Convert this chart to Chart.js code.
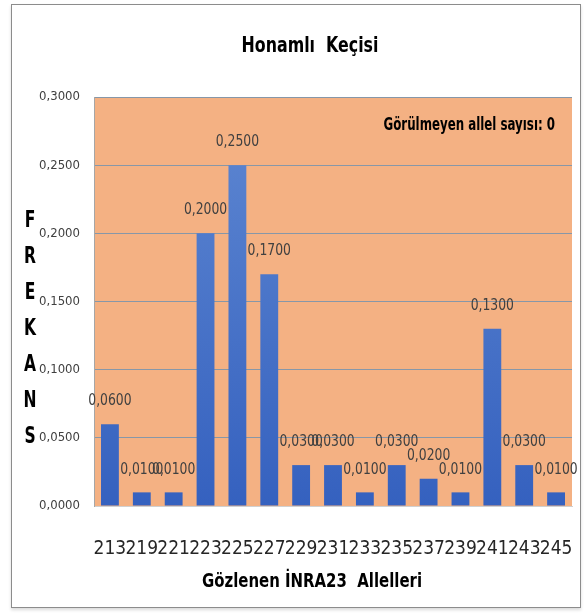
<!DOCTYPE html>
<html>
<head>
<meta charset="utf-8">
<script src="https://cdn.jsdelivr.net/npm/chart.js@4.4.0/dist/chart.umd.min.js"></script>
<style>
  body { margin: 0; background: #fff; }
  #frame {
    position: absolute; left: 11px; top: 4px;
    width: 568px; height: 602px;
    border: 1px solid #8c8c8c;
    box-shadow: 0 2px 3px rgba(0,0,0,0.15);
  }
  #frame canvas { display: block; }
</style>
</head>
<body>
<div id="frame"><canvas id="allelChart" width="568" height="602"></canvas></div>
<script>
// alleles and frequencies
const alleles = ['213', '219', '221', '223', '225', '227', '229', '231', '233', '235', '237', '239', '241', '243', '245'];
const frekans = [0.06, 0.01, 0.01, 0.20, 0.25, 0.17, 0.03, 0.03, 0.01, 0.03, 0.02, 0.01, 0.13, 0.03, 0.01];
const yTicks = [0, 0.05, 0.10, 0.15, 0.20, 0.25, 0.30];

const chartTitle = 'Honamlı  Keçisi';
const xTitle = 'Gözlenen İNRA23  Allelleri';
const yTitle = ['F', 'R', 'E', 'K', 'A', 'N', 'S'];
const note = 'Görülmeyen allel sayısı: 0';

const FONT = "'DejaVu Sans Condensed', 'Liberation Sans Narrow', 'DejaVu Sans', sans-serif";

const fmt = v => v.toFixed(4).replace('.', ',');

// text squeezed sideways, the original fonts are narrow
function narrowText(ctx, text, x, y, font, sx) {
  ctx.save();
  ctx.translate(x, y);
  ctx.scale(sx, 1);
  ctx.font = font;
  ctx.fillText(text, 0, 0);
  ctx.restore();
}

// orange plot area
const plotBg = {
  id: 'plotBg',
  beforeDraw(chart) {
    const { ctx, chartArea: a } = chart;
    ctx.save();
    ctx.fillStyle = '#F4B183';
    ctx.fillRect(a.left, a.top, a.right - a.left, a.bottom - a.top);
    ctx.restore();
  }
};

// title, value labels, axis titles
const texts = {
  id: 'texts',
  afterDatasetsDraw(chart) {
    const { ctx } = chart;
    ctx.save();
    ctx.textAlign = 'center';
    ctx.textBaseline = 'middle';

    // value labels above bars
    ctx.fillStyle = '#404040';
    chart.getDatasetMeta(0).data.forEach((bar, i) => {
      narrowText(ctx, fmt(frekans[i]), bar.x, bar.y - 23, '16px ' + FONT, 0.86);
    });

    ctx.fillStyle = '#000';
    narrowText(ctx, chartTitle, 298, 41, 'bold 22px ' + FONT, 0.8);
    narrowText(ctx, xTitle, 300, 577, 'bold 20px ' + FONT, 0.83);
    yTitle.forEach((ch, i) => narrowText(ctx, ch, 18, 216 + i * 36, 'bold 23px ' + FONT, 0.75));

    ctx.textAlign = 'right';
    narrowText(ctx, note, 543, 120, 'bold 18px ' + FONT, 0.73);
    ctx.restore();
  }
};

const ctx = document.getElementById('allelChart');

new Chart(ctx, {
  type: 'bar',
  data: {
    labels: alleles,
    datasets: [{
      data: frekans,
      backgroundColor: (c) => {
        const a = c.chart.chartArea;
        if (!a) return '#4472C4';
        const g = c.chart.ctx.createLinearGradient(0, a.top, 0, a.bottom);
        g.addColorStop(0, '#5f88d2');
        g.addColorStop(1, '#3561bf');
        return g;
      },
      categoryPercentage: 1,
      barPercentage: 0.56
    }]
  },
  options: {
    responsive: false,
    animation: false,
    layout: { padding: { left: 0, right: 8, top: 92, bottom: 0 } },
    plugins: {
      legend: { display: false },
      title: { display: false },
      tooltip: { enabled: false }
    },
    scales: {
      x: {
        afterFit: s => { s.height = 101; s.paddingLeft = 0; s.paddingRight = 0; },
        grid: { display: false },
        border: { color: '#d0d0d0' },
        ticks: { color: '#262626', font: { family: FONT, size: 19 }, padding: 24, maxRotation: 0, autoSkip: false }
      },
      y: {
        min: 0,
        max: 0.3,
        afterFit: s => { s.width = 82; },
        afterBuildTicks: s => { s.ticks = yTicks.map(v => ({ value: v })); },
        grid: { color: '#8797a8', drawTicks: false },
        border: { color: '#a6a6a6' },
        ticks: { color: '#404040', font: { family: FONT, size: 13 }, padding: 14, callback: v => fmt(v) }
      }
    }
  },
  plugins: [plotBg, texts]
});
</script>
</body>
</html>
